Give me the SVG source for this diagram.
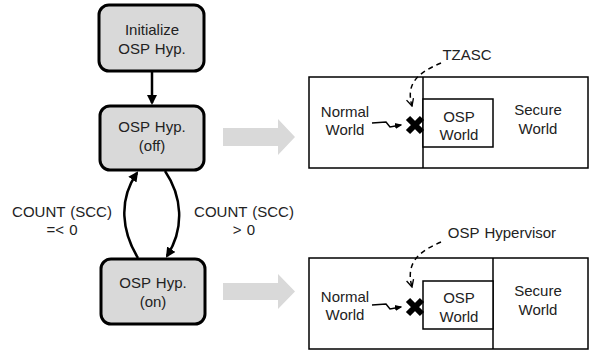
<svg xmlns="http://www.w3.org/2000/svg" width="589" height="353" viewBox="0 0 589 353">
<defs>
<style>
text{font-family:"Liberation Sans",Arial,sans-serif;font-size:15px;fill:#222;text-anchor:middle;word-spacing:1px}
.node rect{fill:#d9d9d9;stroke:#000;stroke-width:3}
.edge{fill:none;stroke:#000;stroke-width:2.5}
.frame{fill:#fff;stroke:#000;stroke-width:1.5}
.dash{fill:none;stroke:#000;stroke-width:1.5;stroke-dasharray:5,4}
.big{fill:#d9d9d9}
.xm{stroke:#000;stroke-width:6;stroke-linecap:butt}
</style>
<marker id="ah" viewBox="0 0 10 10" refX="8" refY="5" markerWidth="4" markerHeight="4" orient="auto"><path d="M0,0 L10,5 L0,10 Z" fill="#000"/></marker>
<marker id="ah2" viewBox="0 0 10 10" refX="8" refY="5" markerWidth="5" markerHeight="5" orient="auto"><path d="M0,1 L10,5 L0,9 Z" fill="#000"/></marker>
<marker id="ov" viewBox="0 0 10 10" refX="9" refY="5" markerWidth="6" markerHeight="6" orient="auto"><path d="M1,1 L9,5 L1,9" fill="none" stroke="#000" stroke-width="1.5"/></marker>
</defs>
<g id="init" class="node"><rect x="99" y="5" width="105" height="66" rx="10"/><text x="152" y="35">Initialize</text><text x="152" y="54">OSP Hyp.</text></g>
<g id="off" class="node"><rect x="100" y="106" width="104" height="64" rx="10"/><text x="152" y="132">OSP Hyp.</text><text x="152" y="151">(off)</text></g>
<g id="on" class="node"><rect x="101" y="259" width="104" height="65" rx="10"/><text x="153" y="288">OSP Hyp.</text><text x="153" y="307">(on)</text></g>
<g id="connectors">
<path class="edge" d="M152,71 L152,103" marker-end="url(#ah)"/>
<path class="edge" d="M138,258 C122,232 118,200 137,173" marker-end="url(#ah)"/>
<path class="edge" d="M165,171 C182,196 185,228 167,256" marker-end="url(#ah)"/>
</g>
<g id="labels"><text x="62" y="217">COUNT (SCC)</text><text x="62" y="235">=&lt; 0</text><text x="244" y="217">COUNT (SCC)</text><text x="244" y="235">&gt; 0</text></g>
<g id="bigarrows"><path class="big" d="M223,128 L278,128 L278,119 L295,137 L278,155 L278,146 L223,146 Z"/><path class="big" d="M223,283 L278,283 L278,274 L295,291.5 L278,309 L278,300 L223,300 Z"/></g>
<g id="panel-off">
<rect class="frame" x="309" y="77" width="279" height="91"/>
<line x1="423" y1="77" x2="423" y2="168" stroke="#000" stroke-width="1.5"/>
<rect class="frame" x="423" y="99" width="70" height="48"/>
<text x="345" y="117">Normal</text><text x="345" y="135">World</text>
<text x="459" y="122">OSP</text><text x="459" y="140">World</text>
<text x="538" y="115">Secure</text><text x="538" y="134">World</text>
<text x="467" y="60">TZASC</text>
<path class="dash" d="M441,63 C420,72 405,82 412,106" marker-end="url(#ov)"/>
<path d="M372,123 L386,122 L390,127 L401,125" fill="none" stroke="#000" stroke-width="1.5" marker-end="url(#ah2)"/>
<path class="xm" d="M408,118 L422,132 M422,118 L408,132"/>
</g>
<g id="panel-on">
<rect class="frame" x="309" y="258" width="279" height="91"/>
<line x1="493" y1="258" x2="493" y2="349" stroke="#000" stroke-width="1.5"/>
<rect class="frame" x="423" y="281" width="70" height="48"/>
<text x="345" y="302">Normal</text><text x="345" y="320">World</text>
<text x="459" y="303">OSP</text><text x="459" y="322">World</text>
<text x="538" y="296">Secure</text><text x="538" y="315">World</text>
<text x="502" y="238">OSP Hypervisor</text>
<path class="dash" d="M441,242 C420,251 405,262 412,287" marker-end="url(#ov)"/>
<path d="M372,305 L386,304 L390,309 L401,307" fill="none" stroke="#000" stroke-width="1.5" marker-end="url(#ah2)"/>
<path class="xm" d="M408,300 L422,314 M422,300 L408,314"/>
</g>
</svg>
